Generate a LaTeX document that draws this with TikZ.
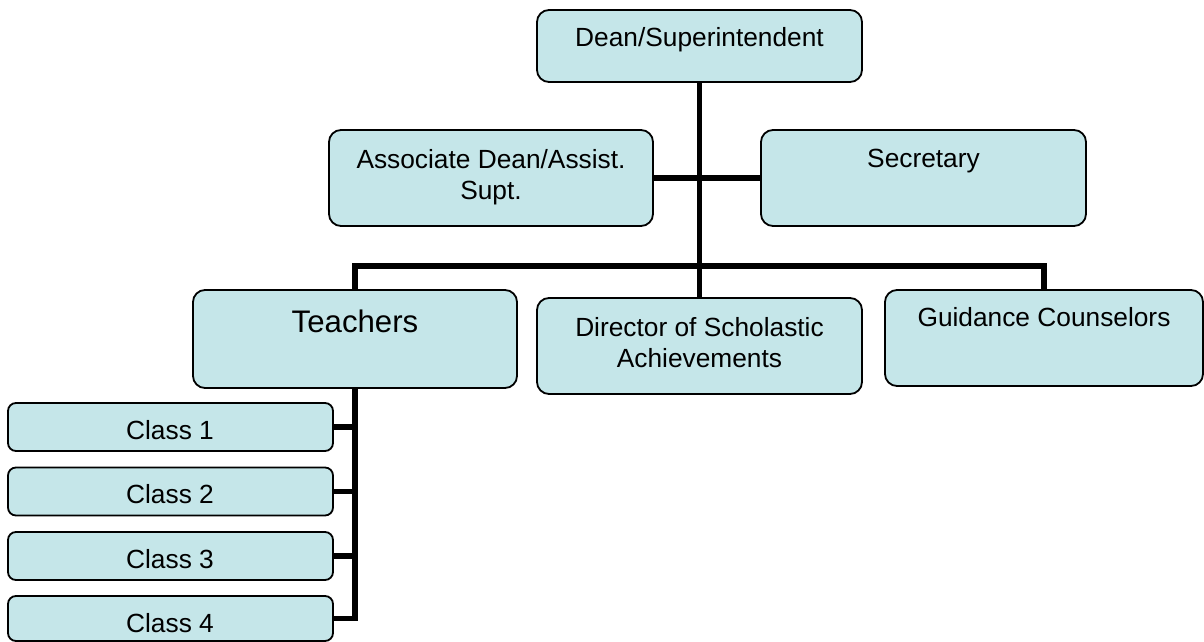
\documentclass[tikz,border=0pt]{standalone}
\usepackage{fontspec}
\setmainfont{Liberation Sans}
\usetikzlibrary{backgrounds}
\definecolor{boxfill}{RGB}{197,230,233}
\tikzset{
  orgbox/.style={draw=black, line width=1.8bp, fill=boxfill, rounded corners=12bp, inner sep=0pt},
  classbox/.style={orgbox, rounded corners=8bp, minimum width=325bp, minimum height=48bp},
  txt/.style={inner sep=0pt, anchor=base, font=\fontsize{26.4}{30.5}\selectfont},
  bigtxt/.style={inner sep=0pt, anchor=base, font=\fontsize{31.3}{36}\selectfont},
  conn/.style={draw=black, line width=5.8bp}
}
\newcommand{\twoline}[1]{\parbox[t]{320bp}{\centering #1}}
\begin{document}
\begin{tikzpicture}[x=1bp, y=-1bp]
\useasboundingbox (0,0) rectangle (1204,642);
% boxes
\node[orgbox, minimum width=325bp, minimum height=72bp] (dean) at (699.5,46) {};
\node[orgbox, minimum width=324bp, minimum height=96bp] (assoc) at (491,178) {};
\node[orgbox, minimum width=325bp, minimum height=96bp] (sec) at (923.5,178) {};
\node[orgbox, minimum width=324bp, minimum height=98bp] (teach) at (355,339) {};
\node[orgbox, minimum width=325bp, minimum height=96bp] (dir) at (699.5,346) {};
\node[orgbox, minimum width=318bp, minimum height=96bp] (guid) at (1044,338) {};
\node[classbox] (c1) at (170.5,427) {};
\node[classbox] (c2) at (170.5,491.5) {};
\node[classbox] (c3) at (170.5,556) {};
\node[classbox, minimum height=45bp] (c4) at (170.5,618.5) {};
% texts
\node[txt] (tdean) at (699.5,47) {Dean/Superintendent};
\node[txt] (tassoc) at (491,169) {\twoline{Associate Dean/Assist.\\Supt.}};
\node[txt] (tsec) at (923.5,168) {Secretary};
\node[bigtxt] (tteach) at (355,333) {Teachers};
\node[txt] (tdir) at (699.5,337) {\twoline{Director of Scholastic\\Achievements}};
\node[txt] (tguid) at (1044,327) {Guidance Counselors};
\node[txt] (tc1) at (170,439) {Class 1};
\node[txt] (tc2) at (170,503) {Class 2};
\node[txt] (tc3) at (170,568) {Class 3};
\node[txt] (tc4) at (170,632) {Class 4};
% connectors
\begin{scope}[on background layer]
\coordinate (bar) at (699.5,266);
\draw[conn] (dean.south) -- (dir.north);
\draw[conn] (assoc.east) -- (sec.west);
\draw[conn] (teach.north) |- (bar) -| (guid.north);
\draw[conn] (teach.south) |- (c4.east);
\foreach \c in {c1,c2,c3} \draw[conn] (\c.east) -- (\c.east -| teach.south);
\end{scope}
\end{tikzpicture}
\end{document}
